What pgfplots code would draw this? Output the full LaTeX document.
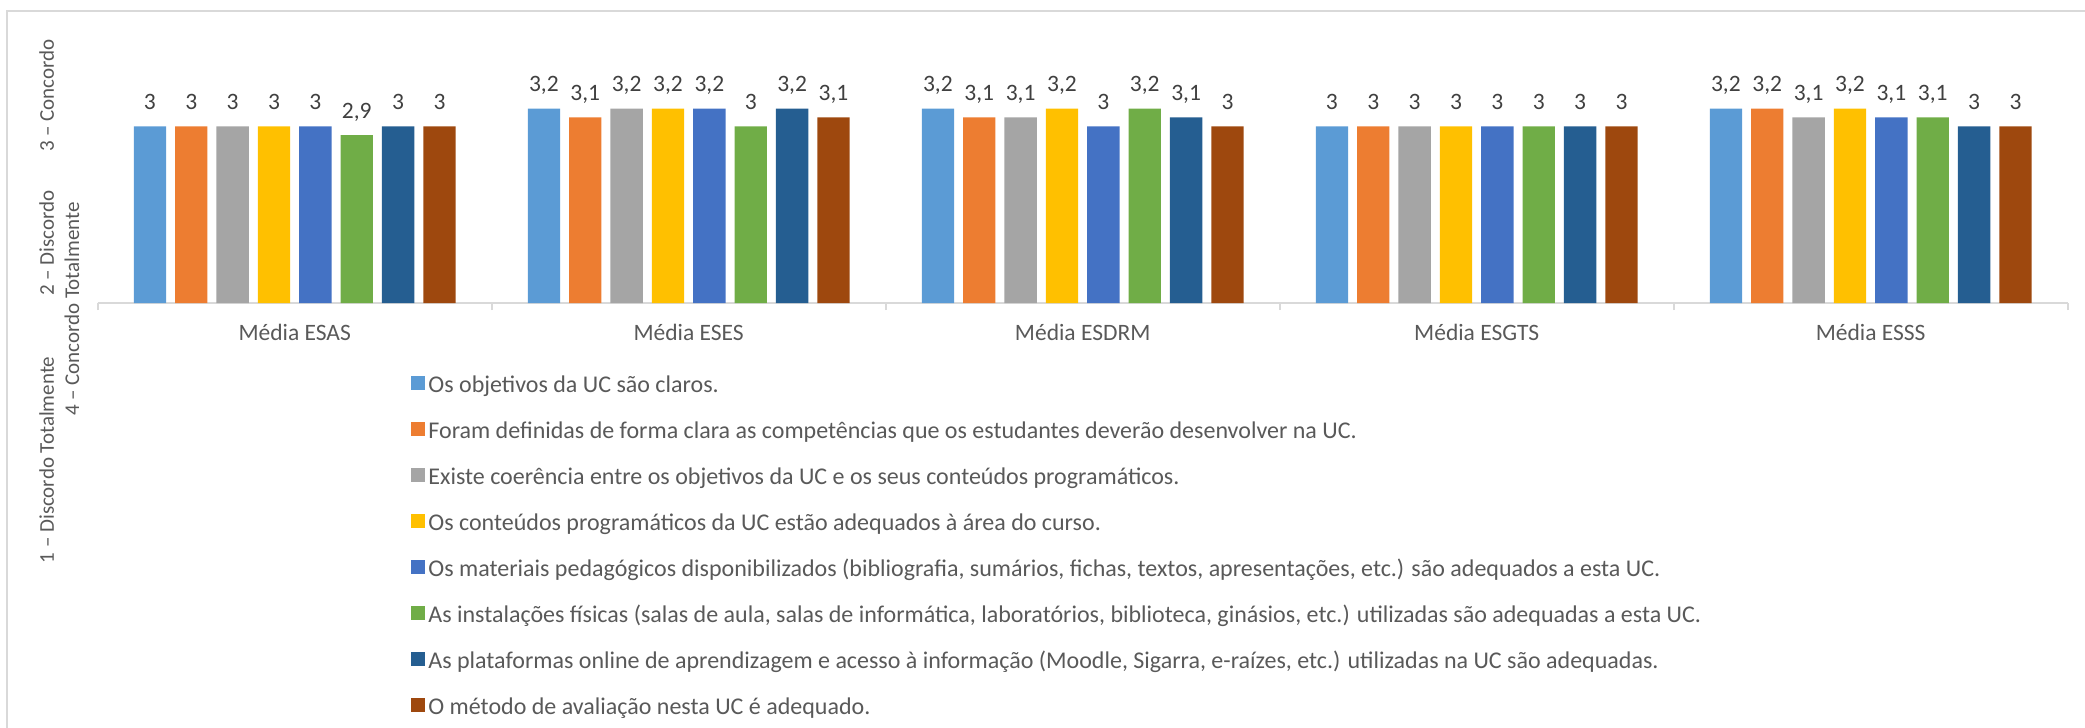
\documentclass[border=0pt]{standalone}
\usepackage{pgfplots}
\pgfplotsset{compat=1.18}
\usepackage{fontspec}
\setmainfont{Carlito}
\definecolor{c1}{HTML}{5B9BD5}
\definecolor{c2}{HTML}{ED7D31}
\definecolor{c3}{HTML}{A5A5A5}
\definecolor{c4}{HTML}{FFC000}
\definecolor{c5}{HTML}{4472C4}
\definecolor{c6}{HTML}{70AD47}
\definecolor{c7}{HTML}{255E91}
\definecolor{c8}{HTML}{9E480E}
\definecolor{axisgray}{HTML}{D9D9D9}
\definecolor{txtgray}{HTML}{595959}
\definecolor{lblgray}{HTML}{404040}
\newcommand{\mainfont}{\fontsize{11.75}{14}\selectfont}
\newcommand{\legfont}{\fontsize{12}{14}\selectfont}
\newcommand{\ytfont}{\fontsize{10.5}{12}\selectfont}
\begin{document}
\begin{tikzpicture}
\useasboundingbox (0,0) rectangle (1042.5pt,364pt);
\draw[axisgray, line width=1pt] (3.5pt,-1pt) -- (3.5pt,358.5pt) -- (1043pt,358.5pt);
% y-axis title pieces
\node[rotate=90, anchor=base, inner sep=0pt, text=txtgray, font=\ytfont] at (27pt,134pt) {1 – Discordo Totalmente};
\node[rotate=90, anchor=base, inner sep=0pt, text=txtgray, font=\ytfont] at (27pt,242.5pt) {2 – Discordo};
\node[rotate=90, anchor=base, inner sep=0pt, text=txtgray, font=\ytfont] at (27pt,316.25pt) {3 – Concordo};
\node[rotate=90, anchor=base, inner sep=0pt, text=txtgray, font=\ytfont] at (39.5pt,209.5pt) {4 – Concordo Totalmente};
\begin{axis}[
  at={(48.85pt,212.4pt)}, anchor=south west,
  width=985pt, height=132.7pt, scale only axis,
  xmin=-0.5, xmax=4.5, ymin=1, ymax=4,
  ybar, bar width=0.082,
  axis x line*=bottom, axis y line=none,
  x axis line style={draw=axisgray, line width=1pt},
  xtick={0,1,2,3,4},
  xticklabels={Média ESAS, Média ESES, Média ESDRM, Média ESGTS, Média ESSS},
  major tick length=0pt,
  xticklabel style={font=\mainfont, text=txtgray, anchor=base, yshift=-18.75pt},
  extra x ticks={-0.5,0.5,1.5,2.5,3.5,4.5},
  extra x tick labels={},
  extra x tick style={major tick length=3.5pt, tick align=outside, tick style={draw=axisgray, line width=1pt}},
  ytick=\empty,
  nodes near coords,
  /pgf/number format/use comma,
  /pgf/number format/assume math mode=true,
  every node near coord/.append style={font=\mainfont, text=lblgray, anchor=base, yshift=8.35pt},
  legend cell align=left,
  legend style={at={(0.15904,-0.26866)}, anchor=north west, draw=none, fill=none, inner sep=0pt,
    row sep=11pt, font=\legfont, text=txtgray,
    nodes={inner sep=0pt, text height=9pt, text depth=3pt},
    /tikz/every odd column/.append style={column sep=1.5pt}},
]
\addplot[fill=c1, draw=none, bar shift=-0.3675, legend image code/.code={\fill[c1] (0pt,-1.5pt) rectangle (7pt,5.5pt);}]
  coordinates {(0,3) (1,3.2) (2,3.2) (3,3) (4,3.2)};
\addlegendentry{Os objetivos da UC são claros.}
\addplot[fill=c2, draw=none, bar shift=-0.2625, legend image code/.code={\fill[c2] (0pt,-1.5pt) rectangle (7pt,5.5pt);}]
  coordinates {(0,3) (1,3.1) (2,3.1) (3,3) (4,3.2)};
\addlegendentry{Foram definidas de forma clara as competências que os estudantes deverão desenvolver na UC.}
\addplot[fill=c3, draw=none, bar shift=-0.1575, legend image code/.code={\fill[c3] (0pt,-1.5pt) rectangle (7pt,5.5pt);}]
  coordinates {(0,3) (1,3.2) (2,3.1) (3,3) (4,3.1)};
\addlegendentry{Existe coerência entre os objetivos da UC e os seus conteúdos programáticos.}
\addplot[fill=c4, draw=none, bar shift=-0.0525, legend image code/.code={\fill[c4] (0pt,-1.5pt) rectangle (7pt,5.5pt);}]
  coordinates {(0,3) (1,3.2) (2,3.2) (3,3) (4,3.2)};
\addlegendentry{Os conteúdos programáticos da UC estão adequados à área do curso.}
\addplot[fill=c5, draw=none, bar shift=0.0525, legend image code/.code={\fill[c5] (0pt,-1.5pt) rectangle (7pt,5.5pt);}]
  coordinates {(0,3) (1,3.2) (2,3) (3,3) (4,3.1)};
\addlegendentry{Os materiais pedagógicos disponibilizados (bibliografia, sumários, fichas, textos, apresentações, etc.) são adequados a esta UC.}
\addplot[fill=c6, draw=none, bar shift=0.1575, legend image code/.code={\fill[c6] (0pt,-1.5pt) rectangle (7pt,5.5pt);}]
  coordinates {(0,2.9) (1,3) (2,3.2) (3,3) (4,3.1)};
\addlegendentry{As instalações físicas (salas de aula, salas de informática, laboratórios, biblioteca, ginásios, etc.) utilizadas são adequadas a esta UC.}
\addplot[fill=c7, draw=none, bar shift=0.2625, legend image code/.code={\fill[c7] (0pt,-1.5pt) rectangle (7pt,5.5pt);}]
  coordinates {(0,3) (1,3.2) (2,3.1) (3,3) (4,3)};
\addlegendentry{As plataformas online de aprendizagem e acesso à informação (Moodle, Sigarra, e-raízes, etc.) utilizadas na UC são adequadas.}
\addplot[fill=c8, draw=none, bar shift=0.3675, legend image code/.code={\fill[c8] (0pt,-1.5pt) rectangle (7pt,5.5pt);}]
  coordinates {(0,3) (1,3.1) (2,3) (3,3) (4,3)};
\addlegendentry{O método de avaliação nesta UC é adequado.}
\end{axis}
\end{tikzpicture}
\end{document}
